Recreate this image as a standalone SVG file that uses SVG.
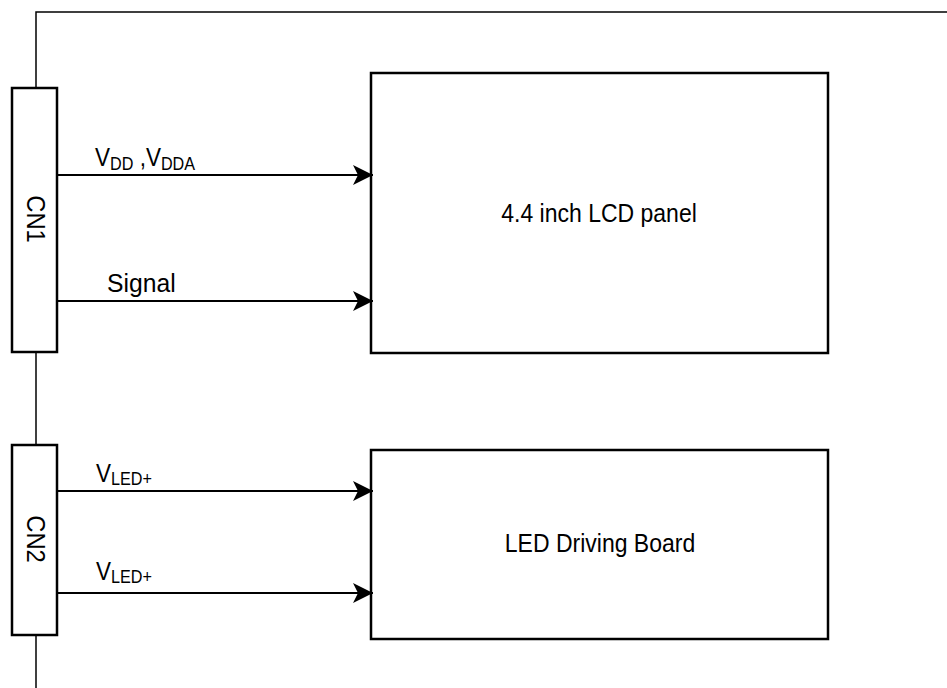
<svg xmlns="http://www.w3.org/2000/svg" width="947" height="688" viewBox="0 0 947 688">
<style>
.box{fill:#fff;stroke:#000;stroke-width:2.5}
.wire{fill:none;stroke:#000;stroke-width:1.5}
.arr{fill:none;stroke:#000;stroke-width:2.2}
text{font-family:"Liberation Sans",Arial,sans-serif;fill:#000}
.lbl{font-size:25px}
.sub{font-size:18px}
.big{font-size:25px}
</style>
<defs>
<marker id="ah" markerUnits="userSpaceOnUse" markerWidth="22" markerHeight="22" refX="20" refY="10" orient="auto">
<path d="M0,0 L20,10 L0,20 L5,10 Z" fill="#000"/>
</marker>
</defs>
<g id="wires">
<polyline class="wire" points="36,88 36,12 947,12"/>
<line class="wire" x1="36" y1="352" x2="36" y2="445"/>
<line class="wire" x1="36" y1="635" x2="36" y2="688"/>
</g>
<g id="cn1">
<rect class="box" x="12" y="88" width="45" height="264"/>
<text class="big" transform="translate(27,219) rotate(90) scale(0.95,1)" text-anchor="middle">CN1</text>
</g>
<g id="cn2">
<rect class="box" x="12" y="445" width="45" height="190"/>
<text class="big" transform="translate(27,539) rotate(90) scale(0.95,1)" text-anchor="middle">CN2</text>
</g>
<g id="lcd">
<rect class="box" x="371" y="73" width="457" height="280"/>
<text class="big" transform="translate(599,222) scale(0.92,1)" text-anchor="middle">4.4 inch LCD panel</text>
</g>
<g id="led">
<rect class="box" x="371" y="450" width="457" height="189"/>
<text class="big" transform="translate(600,552) scale(0.92,1)" text-anchor="middle">LED Driving Board</text>
</g>
<g id="connectors">
<line class="arr" x1="57" y1="175" x2="373" y2="175" marker-end="url(#ah)"/>
<line class="arr" x1="57" y1="301" x2="373" y2="301" marker-end="url(#ah)"/>
<line class="arr" x1="57" y1="491" x2="373" y2="491" marker-end="url(#ah)"/>
<line class="arr" x1="57" y1="593" x2="373" y2="593" marker-end="url(#ah)"/>
<text class="lbl" transform="translate(95,166) scale(0.9,1)">V<tspan class="sub" dy="4">DD</tspan><tspan dy="-4"> ,V</tspan><tspan class="sub" dy="4">DDA</tspan></text>
<text class="lbl" transform="translate(107,292) scale(0.95,1)" style="font-size:26px">Signal</text>
<text class="lbl" transform="translate(96,482) scale(0.9,1)">V<tspan class="sub" dy="3">LED+</tspan></text>
<text class="lbl" transform="translate(96,580) scale(0.9,1)">V<tspan class="sub" dy="3">LED+</tspan></text>
</g>
</svg>
